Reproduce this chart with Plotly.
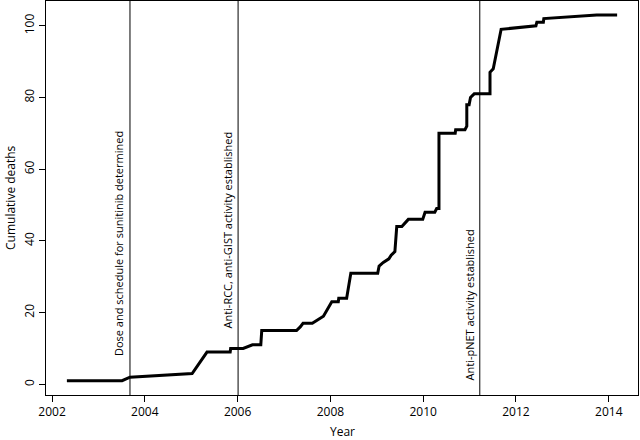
import plotly.graph_objects as go

# Cumulative deaths over time
years = [2002.32, 2003.51, 2003.68, 2005.02, 2005.34, 2005.84, 2005.85, 2006.12, 2006.32, 2006.50,
         2006.52, 2007.27, 2007.35, 2007.41, 2007.61, 2007.85, 2008.03, 2008.17, 2008.18, 2008.35,
         2008.44, 2009.02, 2009.05, 2009.14, 2009.26, 2009.31, 2009.39, 2009.43, 2009.54, 2009.68,
         2009.99, 2010.04, 2010.25, 2010.29, 2010.34, 2010.34, 2010.69, 2010.70, 2010.90, 2010.94,
         2010.94, 2010.99, 2011.02, 2011.10, 2011.44, 2011.44, 2011.51, 2011.68, 2012.43, 2012.45,
         2012.59, 2012.60, 2013.74, 2014.18]
deaths = [1, 1, 2, 3, 9, 9, 10, 10, 11, 11,
          15, 15, 16, 17, 17, 19, 23, 23, 24, 24,
          31, 31, 33, 34, 35, 36, 37, 44, 44, 46,
          46, 48, 48, 49, 49, 70, 70, 71, 71, 72,
          78, 78, 80, 81, 81, 87, 88, 99, 100, 101,
          101, 102, 103, 103]

# Milestones
event_years = [2003.68, 2006.01, 2011.22]
event_labels = ["Dose and schedule for sunitinib determined",
                "Anti-RCC, anti-GIST activity established",
                "Anti-pNET activity established"]
label_x = [2003.43, 2005.79, 2010.99]
label_y = [7.3, 15.1, 0.4]

x_ticks = [2002, 2004, 2006, 2008, 2010, 2012, 2014]
y_ticks = [0, 20, 40, 60, 80, 100]

FONT = "Open Sans"

fig = go.Figure()
fig.add_trace(go.Scatter(x=years, y=deaths, mode="lines",
                         line=dict(color="black", width=3), showlegend=False,
                         hoverinfo="skip"))

for ex in event_years:
    fig.add_shape(type="line", xref="x", yref="paper", x0=ex, x1=ex, y0=0, y1=1,
                  line=dict(color="black", width=1))

for lx, ly, txt in zip(label_x, label_y, event_labels):
    fig.add_annotation(x=lx, y=ly, xref="x", yref="y", text=txt, textangle=-90,
                       showarrow=False, xanchor="center", yanchor="bottom",
                       font=dict(family=FONT, size=11, color="black"))

# Axis titles
fig.add_annotation(x=0.5, y=0, xref="paper", yref="paper", text="Year", showarrow=False,
                   xanchor="center", yanchor="middle", yshift=-36,
                   font=dict(family=FONT, size=12, color="black"))
fig.add_annotation(x=0, y=0.5, xref="paper", yref="paper", text="Cumulative deaths",
                   showarrow=False, textangle=-90, xanchor="center", yanchor="middle",
                   xshift=-36, font=dict(family=FONT, size=12, color="black"))

fig.update_layout(
    width=640, height=440,
    margin=dict(l=46, r=2, t=1, b=45),
    plot_bgcolor="white", paper_bgcolor="white",
    font=dict(family=FONT, size=12, color="black"),
    xaxis=dict(range=[2001.87, 2014.63], tickvals=x_ticks, ticks="outside", ticklen=6,
               tickcolor="black", showline=True, mirror=True, linecolor="black", linewidth=1,
               showgrid=False, zeroline=False, automargin=False),
    yaxis=dict(range=[-2.98, 106.9], tickvals=y_ticks, ticks="outside", ticklen=6,
               tickcolor="black", showline=True, mirror=True, linecolor="black", linewidth=1,
               showgrid=False, zeroline=False, tickangle=-90, automargin=False),
)

fig.write_html("out.html", config={"displayModeBar": False},
               post_script="document.body.style.margin='0px';document.body.style.overflow='hidden';")
